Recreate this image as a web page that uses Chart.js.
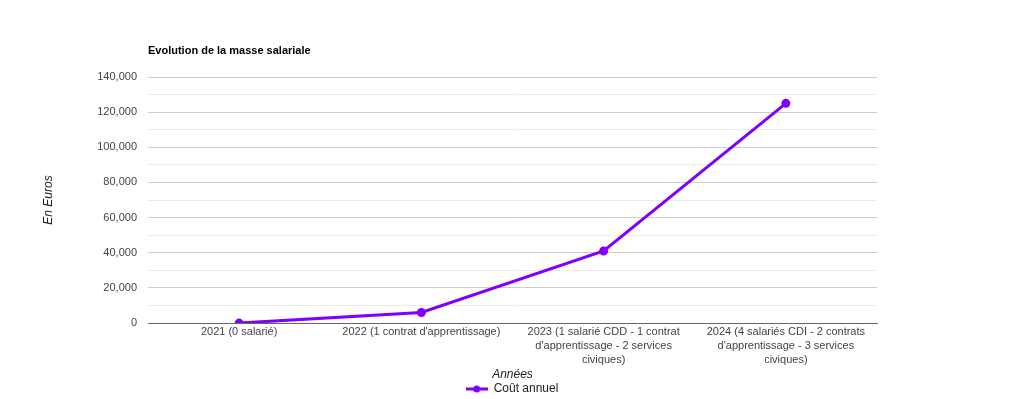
<!DOCTYPE html>
<html>
<head>
<meta charset="utf-8">
<script src="https://cdn.jsdelivr.net/npm/chart.js@4"></script>
<style>
  html, body { margin: 0; padding: 0; background: #fff; }
  #wrap { width: 1024px; height: 399px; }
</style>
</head>
<body>
<div id="wrap"><canvas id="salaryChart"></canvas></div>
<script>
// Evolution de la masse salariale

const years = [
  "2021 (0 salarié)",
  "2022 (1 contrat d'apprentissage)",
  ["2023 (1 salarié CDD - 1 contrat", "d'apprentissage - 2 services", "civiques)"],
  ["2024 (4 salariés CDI - 2 contrats", "d'apprentissage - 3 services", "civiques)"]
];
const annualCost = [0, 6000, 41000, 125000];

const chartTitle = "Evolution de la masse salariale";
const seriesLabel = "Coût annuel";
const xTitle = "Années";
const yTitle = "En Euros";

const lineColor = "#8000ff";
const FONT = "Arial, 'Liberation Sans', sans-serif";

const numberFormatter = new Intl.NumberFormat("en-US");

// legend marker: short line with a dot in the middle
function legendMarker() {
  const c = document.createElement("canvas");
  c.width = 22;
  c.height = 8;
  const g = c.getContext("2d");
  g.strokeStyle = lineColor;
  g.lineWidth = 3;
  g.beginPath();
  g.moveTo(0, 4);
  g.lineTo(22, 4);
  g.stroke();
  g.fillStyle = lineColor;
  g.beginPath();
  g.arc(11, 4, 3.5, 0, Math.PI * 2);
  g.fill();
  return c;
}

// title drawn left-aligned on the plot area, like the original
const titlePlugin = {
  id: "leftTitle",
  afterDraw(chart) {
    const ctx = chart.ctx;
    ctx.save();
    ctx.font = "bold 11px " + FONT;
    ctx.fillStyle = "#000";
    ctx.textBaseline = "middle";
    ctx.textAlign = "left";
    ctx.fillText(chartTitle, chart.chartArea.left, 50.5);
    ctx.restore();
  }
};

const marker = legendMarker();

new Chart(document.getElementById("salaryChart"), {
  type: "line",
  data: {
    labels: years,
    datasets: [{
      label: seriesLabel,
      data: annualCost,
      borderColor: lineColor,
      backgroundColor: lineColor,
      borderWidth: 3,
      pointRadius: 3,
      pointHoverRadius: 4,
      fill: false,
      tension: 0
    }]
  },
  plugins: [titlePlugin],
  options: {
    responsive: true,
    maintainAspectRatio: false,
    animation: false,
    layout: {
      // legend box carries a fixed 10px tail, pulled back below the canvas
      padding: { top: 77, right: 0, left: 0, bottom: -6 }
    },
    plugins: {
      title: { display: false },
      tooltip: { enabled: false },
      legend: {
        position: "bottom",
        labels: {
          usePointStyle: true,
          pointStyleWidth: 22,
          padding: 2,
          color: "#222",
          font: { family: FONT, size: 12 },
          generateLabels(chart) {
            return chart.data.datasets.map((ds, i) => ({
              text: ds.label,
              pointStyle: marker,
              fillStyle: lineColor,
              strokeStyle: lineColor,
              lineWidth: 0,
              hidden: false,
              datasetIndex: i,
              fontColor: "#222"
            }));
          }
        }
      }
    },
    scales: {
      x: {
        offset: true,
        grid: { display: false, drawTicks: false },
        border: { display: true, color: "#666", width: 1 },
        ticks: {
          autoSkip: false,
          maxRotation: 0,
          minRotation: 0,
          padding: 2,
          color: "#444",
          font: { family: FONT, size: 11, lineHeight: 1.27 }
        },
        title: {
          display: true,
          text: xTitle,
          color: "#222",
          padding: { top: 0, bottom: 0 },
          font: { family: FONT, size: 12, style: "italic", lineHeight: 1.0 }
        }
      },
      y: {
        min: 0,
        max: 140000,
        afterFit(scale) { scale.width = 148; },
        border: { display: false },
        grid: {
          drawTicks: false,
          color: ctx => {
            const v = ctx.tick.value;
            if (v === 0) return "#666";
            return v % 20000 === 0 ? "#cccccc" : "#ebebeb";
          }
        },
        ticks: {
          stepSize: 10000,
          padding: 11,
          color: "#444",
          font: { family: FONT, size: 11 },
          callback: v => (v % 20000 === 0 ? numberFormatter.format(v) : "")
        },
        title: {
          display: true,
          text: yTitle,
          color: "#222",
          padding: { top: 41, bottom: 0 },
          font: { family: FONT, size: 12, style: "italic" }
        }
      },
      // empty right-hand axis that only reserves the right margin
      yRight: {
        position: "right",
        display: true,
        afterFit(scale) { scale.width = 147; },
        border: { display: false },
        grid: { display: false, drawTicks: false },
        ticks: { display: false },
        title: { display: false }
      }
    }
  }
});
</script>
</body>
</html>
